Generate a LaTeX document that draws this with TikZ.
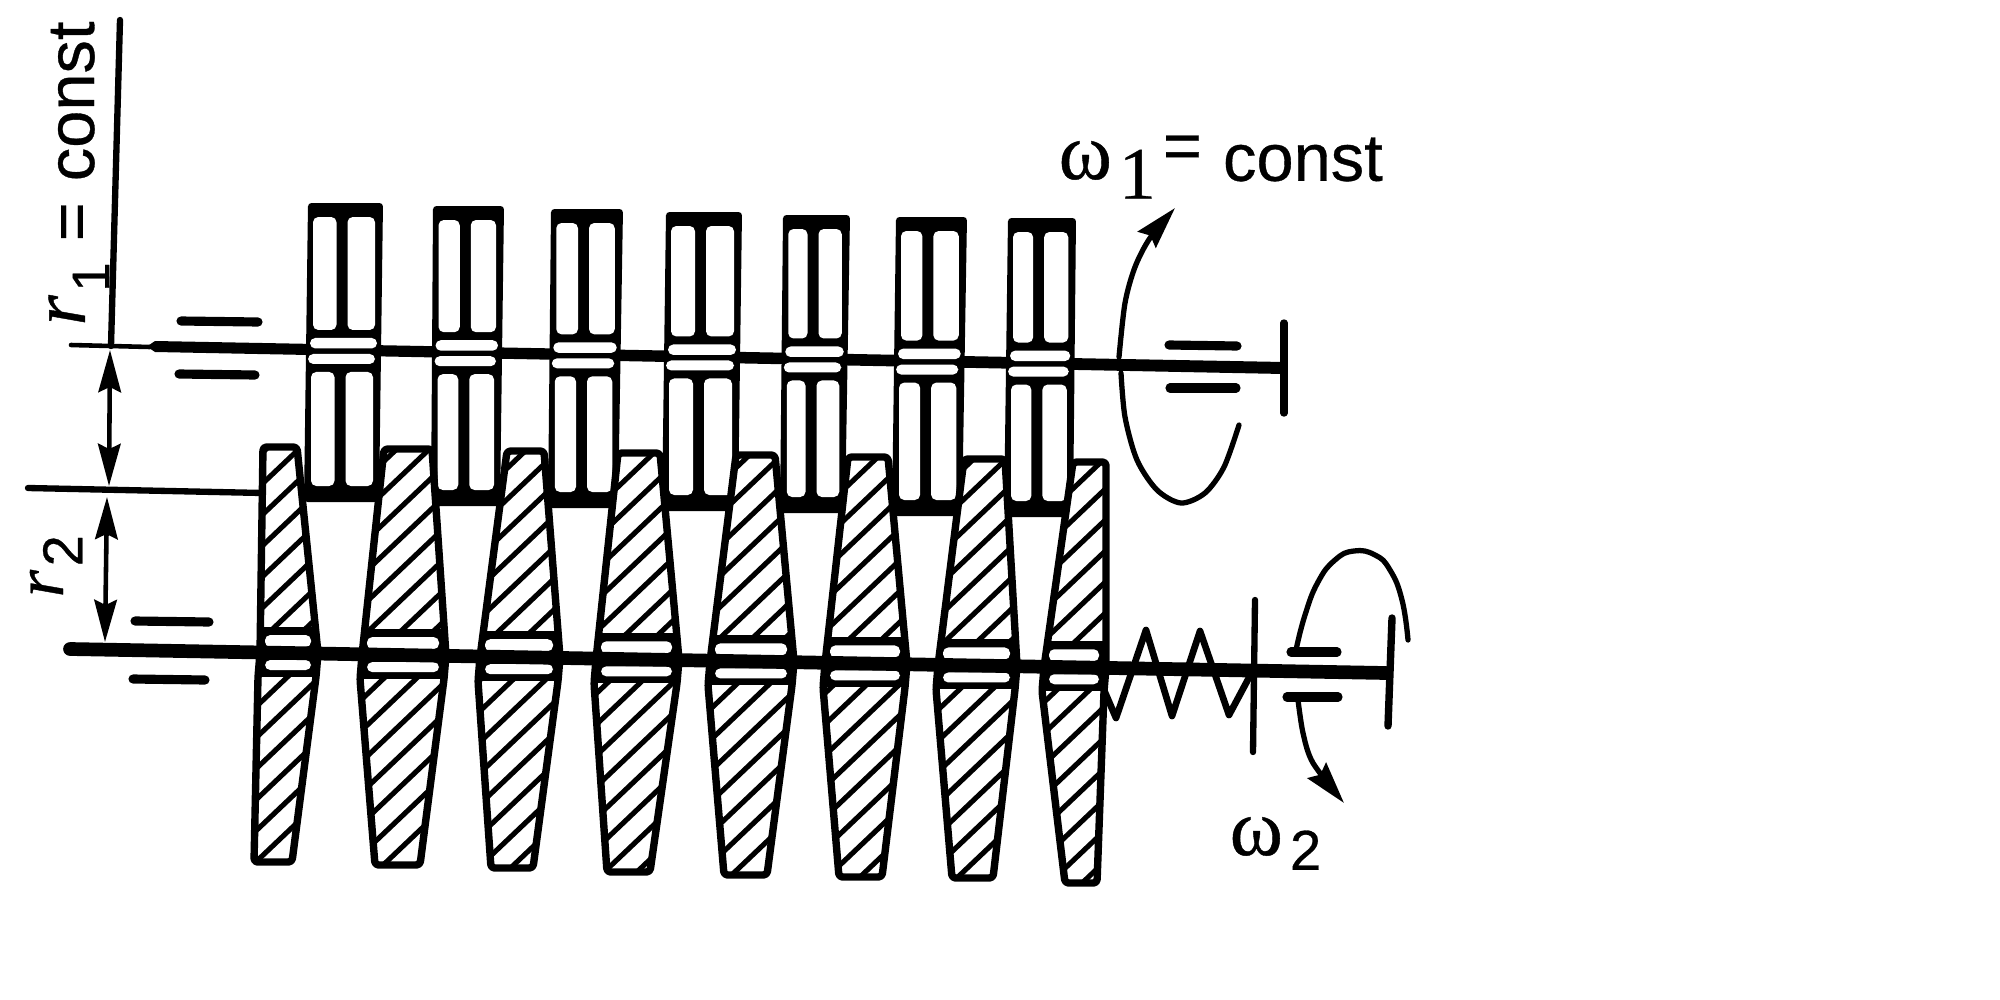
\documentclass[tikz,border=0pt]{standalone}
\usepackage{fontspec}
\setmainfont{Liberation Sans}[FakeBold=0.5]
\newfontfamily\serf{Liberation Serif}[FakeBold=0.5]
\usetikzlibrary{arrows.meta}
\tikzset{
  ink/.style={line join=round,line cap=round,draw=black},
  fineline/.style={ink,line width=1.3pt},
  curveline/.style={ink,line width=1.5pt},
  frameline/.style={ink,line width=1.8pt},
  bearing/.style={ink,line width=2.6pt},
  hatchline/.style={line width=1.45pt,draw=black},
  hole/.style={fill=white,rounded corners=1.5pt},
  headtip/.style={-{Stealth[length=12pt,width=6.8pt,inset=1.5pt]}},
  bothtips/.style={{Stealth[length=12pt,width=6.4pt,inset=1.5pt]}-{Stealth[length=12pt,width=6.4pt,inset=1.5pt]}},
  lettering/.style={inner sep=0pt,font=\fontsize{19}{19}\selectfont}
}
\begin{document}
\begin{tikzpicture}[x=0.01cm,y=-0.01cm]
\useasboundingbox (0,0) rectangle (2000,1000);
\fill[white] (0,0) rectangle (2000,1000);

% axis and dimension lines
\coordinate (axisTop) at (120,20);
\coordinate (axisFoot) at (111,346);
\coordinate (refL) at (28,488);
\coordinate (refR) at (263,493);
\coordinate (dimAt) at (110,350);
\coordinate (dimBt) at (109,486);
\coordinate (dimCt) at (107,497);
\coordinate (dimDt) at (105,642);
\draw[frameline] (axisTop) -- (axisFoot);
\draw[frameline] (refL) -- (refR);
\draw[fineline,bothtips] (dimAt) -- (dimBt);
\draw[fineline,bothtips] (dimCt) -- (dimDt);

% upper shaft
\draw[fineline] (71,345) -- (150,347);
\fill[black] (147,346.5) -- (155,341) -- (1284,362) -- (1284,374) -- (155,352) -- cycle;
\draw[frameline,line width=2.1pt] (1284,323) -- (1284,413);

% bearings
\draw[bearing] (181,321) -- (258,322);
\draw[bearing] (179,374) -- (255,375);
\draw[bearing] (1169,345) -- (1237,346);
\draw[bearing] (1170,388) -- (1236,388);
\draw[bearing] (135,621) -- (209,622);
\draw[bearing] (133,679) -- (205,680);
\draw[bearing] (1291,652) -- (1337,652);
\draw[bearing] (1287,697) -- (1338,697);

% upper discs
\foreach \xl/\xr/\ty/\xlb/\xrb/\by in {
  308/383/203/304/379/502,
  433/504/206/431/500/506,
  551/623/209/548/618/508,
  666/742/212/662/738/511,
  783/850/215/780/845/513,
  896/967/217/892/962/516,
  1008/1076/218/1004/1073/517}{
  \pgfmathsetmacro{\sy}{346+0.0181*((\xl+\xr)/2-71)}
  \pgfmathsetmacro{\ua}{\xl+.25*(\xlb-\xl)}
  \pgfmathsetmacro{\ub}{\xr+.25*(\xrb-\xr)}
  \pgfmathsetmacro{\la}{\xl+.75*(\xlb-\xl)}
  \pgfmathsetmacro{\lb}{\xr+.75*(\xrb-\xr)}
  \pgfmathsetmacro{\um}{(\ua+\ub)/2-3}
  \pgfmathsetmacro{\lm}{(\la+\lb)/2-3}
  \fill[black,rounded corners=1pt] (\xl,\ty) -- (\xr,\ty) -- (\xrb,\by) -- (\xlb,\by) -- cycle;
  \fill[hole] (\ua+6,\ty+14) rectangle (\um-5,\sy-21);
  \fill[hole] (\um+6,\ty+14) rectangle (\ub-7,\sy-21);
  \fill[hole] (\la+6,\sy+21) rectangle (\lm-5,\by-16);
  \fill[hole] (\lm+6,\sy+21) rectangle (\lb-7,\by-16);
  \fill[hole] (\ua+3,\sy-13) rectangle (\ub-5,\sy-2.5);
  \fill[hole] (\la+3,\sy+3) rectangle (\lb-5,\sy+13);
}

% spring
\draw[curveline,line width=1.9pt] (1104,690) -- (1116,718) -- (1146,630) -- (1172,716) -- (1200,631) -- (1229,715) -- (1252,672);

% lower discs
\foreach \tl/\tr/\ty/\sl/\sr/\bl/\br/\by in {
  263/297/447/260/318/254/292/862,
  384/432/449/362/446/375/420/865,
  507/544/451/480/560/491/533/868,
  618/660/453/596/679/607/650/872,
  736/775/455/710/794/724/767/875,
  848/888/457/825/907/839/882/877,
  964/1005/459/938/1017/952/993/878,
  1073/1106/462/1044/1106/1065/1097/883}{
  \pgfmathsetmacro{\sy}{649+0.0181*((\sl+\sr)/2-67)}
  \pgfmathsetmacro{\cx}{(\sl+\sr)/2}
  \fill[white] (\tl,\ty) -- (\tr,\ty) -- (\sr,\sy) -- (\sr-2,\sy+24) -- (\br,\by) -- (\bl,\by) -- (\sl-2,\sy+24) -- (\sl,\sy) -- cycle;
  \begin{scope}
    \clip (\tl,\ty) -- (\tr,\ty) -- (\sr,\sy) -- (\sr-2,\sy+24) -- (\br,\by) -- (\bl,\by) -- (\sl-2,\sy+24) -- (\sl,\sy) -- cycle;
    \foreach \k in {0,...,50}{
      \pgfmathsetmacro{\cc}{640+31*\k}
      \pgfmathsetmacro{\ya}{\cc-.95*(\cx-70)}
      \pgfmathsetmacro{\yb}{\cc-.95*(\cx+70)}
      \ifdim\ya pt>\ty pt\relax
        \pgfmathparse{\yb<\by ? 1 : 0}
        \ifnum\pgfmathresult=1
          \draw[hatchline] (\cx-70,\ya) -- (\cx+70,\yb);
        \fi
      \fi
    }
    \fill[black] (\sl-6,\sy-26) rectangle (\sr+6,\sy+24);
  \end{scope}
  \draw[black,line width=2.1pt,rounded corners=1pt,line join=round] (\tl,\ty) -- (\tr,\ty) -- (\sr,\sy) -- (\sr-2,\sy+24) -- (\br,\by) -- (\bl,\by) -- (\sl-2,\sy+24) -- (\sl,\sy) -- cycle;
  \fill[hole] (\sl+5,\sy-18) rectangle (\sr-7,\sy-6);
  \fill[hole] (\sl+5,\sy+7) rectangle (\sr-7,\sy+17);
}

% lower shaft
\draw[ink,line width=3.9pt] (70,649) -- (1386,673);
\draw[frameline,line width=2.1pt] (1392,618) -- (1388,726);
\draw[frameline] (1255,600) -- (1253,752);

% rotation arrows
\draw[curveline,headtip] plot[smooth] coordinates {(1119,357) (1125,303) (1135,267) (1150,238) (1175,208)};
\draw[curveline] plot[smooth] coordinates {(1121,373) (1125,417) (1137,460) (1157,490) (1181,503) (1205,493) (1224,467) (1239,425)};
\draw[curveline] plot[smooth,tension=.8] coordinates {(1408,640) (1402,600) (1390,570) (1375,555) (1354,551) (1335,560) (1318,582) (1305,615) (1296,650)};
\draw[curveline,headtip] plot[smooth] coordinates {(1298,700) (1303,733) (1313,763) (1344,803)};

% labels
\node[lettering,rotate=90,anchor=base west] (labelr) at (94,326)
  {\raisebox{2.6pt}{\serf\itshape\fontsize{22}{22}\selectfont r}\hspace{1pt}\raisebox{-4.3pt}{\fontsize{15}{15}\selectfont 1}\hspace{6pt}=\hspace{6pt}const};
\node[lettering,rotate=90,anchor=base west] (labelrb) at (63,598)
  {{\serf\itshape\fontsize{20}{20}\selectfont r}\hspace{1pt}\raisebox{-5.5pt}{\fontsize{16}{16}\selectfont 2}};
\node[lettering,anchor=base west] (labelwa) at (1058,179)
  {{\serf\fontsize{23}{23}\selectfont ω}\hspace{2pt}\raisebox{-5.6pt}{\serf\fontsize{21}{21}\selectfont 1}\hspace{2pt}\raisebox{3pt}{=}\hspace{6pt}\raisebox{-.5pt}{const}};
\node[lettering,anchor=base west] (labelwb) at (1229,855)
  {{\serf\fontsize{23}{23}\selectfont ω}\hspace{2pt}\raisebox{-4.2pt}{\fontsize{16}{16}\selectfont 2}};
\end{tikzpicture}
\end{document}
